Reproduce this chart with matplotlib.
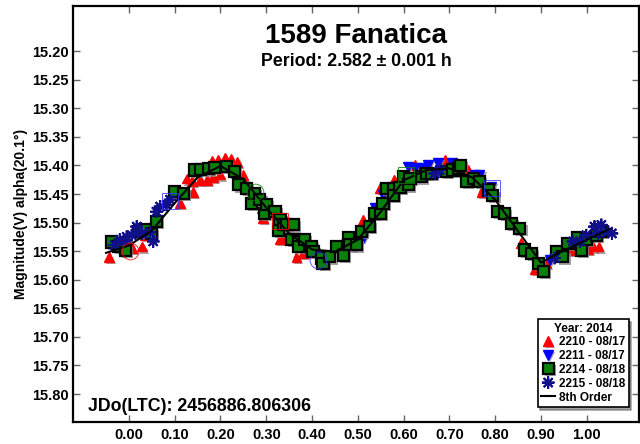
import matplotlib.pyplot as plt
import matplotlib.patheffects as pe

plt.rcParams['font.family'] = ['Liberation Sans', 'DejaVu Sans']
plt.rcParams['font.weight'] = 'bold'

# session 2210 - 08/17 (red triangles)
red_x = [-0.044, 0.006, 0.028, 0.035, 0.111, 0.126, 0.137, 0.140, 0.155, 0.170,
         0.181, 0.184, 0.195, 0.199, 0.210, 0.223, 0.237, 0.250, 0.290, 0.293,
         0.330, 0.337, 0.366, 0.381, 0.468, 0.512, 0.548, 0.579, 0.624, 0.675,
         0.690, 0.741, 0.770, 0.857, 0.886, 0.912, 0.967, 1.003, 1.014, 1.026]
red_y = [15.560, 15.544, 15.542, 15.522, 15.466, 15.423, 15.427, 15.446, 15.425, 15.425,
         15.392, 15.420, 15.391, 15.416, 15.387, 15.389, 15.394, 15.417, 15.475, 15.492,
         15.529, 15.527, 15.560, 15.554, 15.533, 15.495, 15.440, 15.425, 15.399, 15.402,
         15.391, 15.408, 15.446, 15.536, 15.581, 15.571, 15.548, 15.546, 15.542, 15.542]

# session 2211 - 08/17 (blue triangles)
blue_x = [0.512, 0.537, 0.555, 0.606, 0.610, 0.624, 0.639, 0.654, 0.675, 0.705,
          0.755, 0.766, 0.792, 0.919]
blue_y = [15.527, 15.475, 15.452, 15.423, 15.402, 15.404, 15.405, 15.399, 15.396, 15.396,
          15.417, 15.416, 15.437, 15.565]

# session 2214 - 08/18 (green squares)
green_x = [-0.038, -0.023, -0.007, 0.020, 0.035, 0.050, 0.060, 0.100, 0.119, 0.144,
           0.157, 0.173, 0.186, 0.213, 0.231, 0.240, 0.257, 0.268, 0.274, 0.286,
           0.297, 0.301, 0.319, 0.326, 0.330, 0.337, 0.344, 0.355, 0.359, 0.370,
           0.370, 0.384, 0.399, 0.402, 0.421, 0.424, 0.439, 0.453, 0.468, 0.479,
           0.483, 0.497, 0.508, 0.526, 0.537, 0.550, 0.555, 0.563, 0.577, 0.577,
           0.592, 0.599, 0.610, 0.614, 0.639, 0.650, 0.661, 0.694, 0.708, 0.719,
           0.725, 0.737, 0.752, 0.766, 0.785, 0.795, 0.806, 0.821, 0.836, 0.854,
           0.865, 0.879, 0.894, 0.905, 0.934, 0.948, 0.959, 0.981, 0.988, 0.999,
           1.021, 1.032]
green_y = [15.534, 15.542, 15.548, 15.515, 15.513, 15.519, 15.498, 15.446, 15.449, 15.408,
           15.407, 15.406, 15.404, 15.402, 15.411, 15.434, 15.440, 15.466, 15.449, 15.460,
           15.484, 15.469, 15.480, 15.513, 15.495, 15.504, 15.504, 15.530, 15.504, 15.533,
           15.542, 15.530, 15.542, 15.551, 15.562, 15.571, 15.560, 15.542, 15.557, 15.526,
           15.539, 15.539, 15.516, 15.507, 15.484, 15.484, 15.466, 15.440, 15.440, 15.452,
           15.439, 15.420, 15.434, 15.423, 15.420, 15.414, 15.414, 15.411, 15.408, 15.405,
           15.400, 15.428, 15.423, 15.428, 15.443, 15.452, 15.480, 15.484, 15.501, 15.510,
           15.548, 15.554, 15.571, 15.585, 15.551, 15.560, 15.536, 15.527, 15.548, 15.530,
           15.522, 15.515]

# session 2215 - 08/18 (navy asterisks)
star_x = [-0.031, -0.020, -0.009, -0.005, 0.006, 0.017, 0.028, 0.046, 0.053, 0.060,
          0.068, 0.082, 0.090, 0.668, 0.679, 0.930, 0.970, 0.985, 0.999, 1.017,
          1.025, 1.032, 1.047, 1.055]
star_y = [15.539, 15.530, 15.533, 15.525, 15.522, 15.507, 15.519, 15.517, 15.533, 15.481,
          15.472, 15.469, 15.460, 15.414, 15.408, 15.562, 15.533, 15.533, 15.522, 15.507,
          15.519, 15.504, 15.516, 15.519]

# 8th order fit
fit_x = [-0.05, 0.00, 0.05, 0.10, 0.15, 0.20, 0.25, 0.30, 0.35, 0.40, 0.45,
         0.50, 0.55, 0.60, 0.65, 0.70, 0.75, 0.80, 0.85, 0.90, 0.95, 1.00, 1.05]
fit_y = [15.553, 15.540, 15.514, 15.466, 15.421, 15.401, 15.424, 15.474, 15.519, 15.547, 15.551,
         15.530, 15.481, 15.426, 15.408, 15.405, 15.421, 15.460, 15.515, 15.570, 15.549, 15.530, 15.511]

# open markers (session start points)
open_x = [0.002, 0.090, 0.275, 0.330, 0.413, 0.606, 0.793]
open_y = [15.550, 15.463, 15.446, 15.498, 15.565, 15.417, 15.440]
open_m = ['o', 's', 'o', 's', 'o', 's', 's']
open_c = ['red', '#3333ff', 'green', 'red', '#3333ff', 'green', '#3333ff']

shadow = [pe.SimplePatchShadow(offset=(1.5, -1.5), shadow_rgbFace='0.55', alpha=0.8), pe.Normal()]

fig = plt.figure(figsize=(6.4, 4.44), dpi=100)
ax = fig.add_axes([0.114, 0.0495, 0.885, 0.937])

ax.plot(red_x, red_y, ls='none', marker='^', ms=7, mfc='#ff0000', mec='#ff0000',
        label='2210 - 08/17', path_effects=shadow)
ax.plot(blue_x, blue_y, ls='none', marker='v', ms=7, mfc='#0000ff', mec='#0000ff',
        label='2211 - 08/17', path_effects=shadow)
ax.plot(green_x, green_y, ls='none', marker='s', ms=8, mfc='#0a800a', mec='black', mew=1.6,
        label='2214 - 08/18', path_effects=shadow)
ax.plot(star_x, star_y, ls='none', marker=(8, 2, 0), ms=9, mec='#10108a', mew=1.4,
        label='2215 - 08/18', path_effects=shadow)
ax.plot(fit_x, fit_y, color='black', lw=1.5, label='8th Order')
for x, y, m, c in zip(open_x, open_y, open_m, open_c):
    ax.plot(x, y, ls='none', marker=m, ms=12, mfc='none', mec=c, mew=0.7, alpha=0.8)

ax.set_xlim(-0.1223, 1.115)
ax.set_ylim(15.849, 15.121)
ax.set_xticks([i / 10 for i in range(11)])
ax.set_xticklabels(['%.2f' % (i / 10) for i in range(11)])
ax.set_yticks([15.20 + i * 0.05 for i in range(13)])
ax.set_yticklabels(['%.2f' % (15.20 + i * 0.05) for i in range(13)])
ax.tick_params(direction='in', length=5, width=1, color='0.4', labelsize=10.5,
               top=True, right=True)
ax.tick_params(axis='x', pad=4.5)
ax.tick_params(axis='y', pad=3)
for s in ax.spines.values():
    s.set_linewidth(1.6)

ax.set_ylabel('Magnitude(V) alpha(20.1°)', fontsize=10, fontweight='bold', labelpad=3)
ax.text(0.5, 0.928, '1589 Fanatica', transform=ax.transAxes, ha='center', va='center',
        fontsize=20, fontweight='bold')
ax.text(0.5, 0.866, 'Period: 2.582 ± 0.001 h', transform=ax.transAxes, ha='center',
        va='center', fontsize=12.8, fontweight='bold')
ax.text(0.026, 0.038, 'JDo(LTC): 2456886.806306', transform=ax.transAxes, ha='left',
        va='center', fontsize=12.8, fontweight='bold')

leg = ax.legend(loc='lower right', bbox_to_anchor=(0.981, 0.036), borderaxespad=0,
                title='Year: 2014', fontsize=8.5, title_fontproperties={'weight': 'bold', 'size': 8.5},
                fancybox=False, shadow=True, framealpha=1, edgecolor='black',
                handlelength=1.2, handletextpad=0.3, borderpad=0.3, labelspacing=0.15)
leg.get_frame().set_linewidth(1.2)

fig.savefig('out.png', dpi=100)
